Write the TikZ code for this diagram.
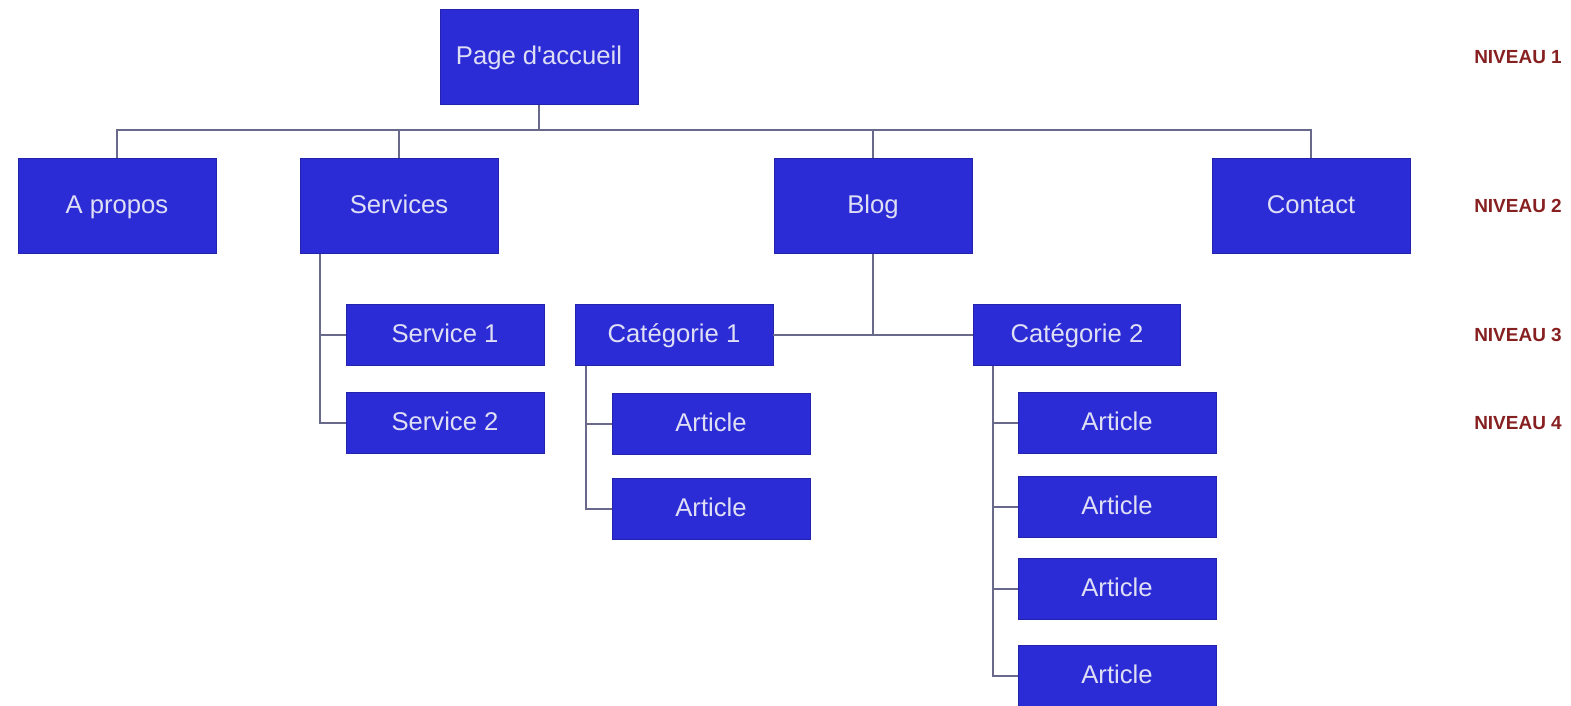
\documentclass[tikz,border=0pt]{standalone}
\usepackage{fontspec}
\setmainfont{Liberation Sans}
\usepackage{tikz}
\usepackage{xcolor}
\definecolor{boxblue}{RGB}{44,44,214}
\definecolor{boxtext}{RGB}{222,222,245}
\definecolor{linkgray}{RGB}{105,105,140}
\definecolor{levelred}{RGB}{135,32,32}

\begin{document}
\begin{tikzpicture}[x=0.02cm, y=-0.02cm,
    box/.style={fill=boxblue, draw=boxblue!80!black, line width=0.4pt, text=boxtext,
        minimum width=3.96cm, inner sep=0pt, text height=10.5pt, text depth=1.5pt,
        font=\fontsize{14.6}{17}\selectfont},
    bigbox/.style={box, minimum height=1.9cm},
    smallbox/.style={box, minimum height=1.22cm},
    link/.style={draw=linkgray, line width=1.1pt},
    level/.style={text=levelred, font=\fontsize{10.8}{13}\selectfont\bfseries}]
    \useasboundingbox (0,0) rectangle (1571,706);

    % Niveau 1
    \node[bigbox] (home) at (539,57) {Page d\textquotesingle accueil};

    % Niveau 2
    \node[bigbox] (apropos) at (117,206) {A propos};
    \node[bigbox] (services) at (399,206) {Services};
    \node[bigbox] (blog) at (873,206) {Blog};
    \node[bigbox] (contact) at (1311,206) {Contact};

    % Niveau 3
    \node[smallbox] (service1) at (445,335) {Service 1};
    \node[smallbox] (service2) at (445,423) {Service 2};
    \node[smallbox] (cat1) at (674,335) {Catégorie 1};
    \node[smallbox, minimum width=4.14cm] (cat2) at (1077,335) {Catégorie 2};

    % Niveau 4
    \node[smallbox] (art11) at (711,424) {Article};
    \node[smallbox] (art12) at (711,509) {Article};
    \foreach \y/\n in {423/1,507/2,589/3,676/4}
        \node[smallbox] (art2\n) at (1117,\y) {Article};

    % Liaisons
    \coordinate (bus) at (539,130);
    \draw[link] (home.south) -- (home.south |- bus);
    \draw[link] (apropos.north) -- (apropos.north |- bus) -- (contact.north |- bus) -- (contact.north);
    \draw[link] (services.north) -- (services.north |- bus);
    \draw[link] (blog.north) -- (blog.north |- bus);

    \coordinate (st) at (320,254);
    \draw[link] (st) |- (service2.west);
    \draw[link] (service1.west) -- (service1.west -| st);

    \draw[link] (blog.south) |- (cat1.east);
    \draw[link] (blog.south |- cat1.east) -- (cat2.west);

    \coordinate (c1t) at (586,366);
    \draw[link] (c1t) |- (art12.west);
    \draw[link] (art11.west) -- (art11.west -| c1t);

    \coordinate (c2t) at (993,366);
    \draw[link] (c2t) |- (art24.west);
    \foreach \n in {1,2,3}
        \draw[link] (art2\n.west) -- (art2\n.west -| c2t);

    % Niveaux
    \node[level] (lv1) at (1518,57) {NIVEAU 1};
    \node[level] (lv2) at (1518,206) {NIVEAU 2};
    \node[level] (lv3) at (1518,335) {NIVEAU 3};
    \node[level] (lv4) at (1518,423) {NIVEAU 4};
\end{tikzpicture}
\end{document}
